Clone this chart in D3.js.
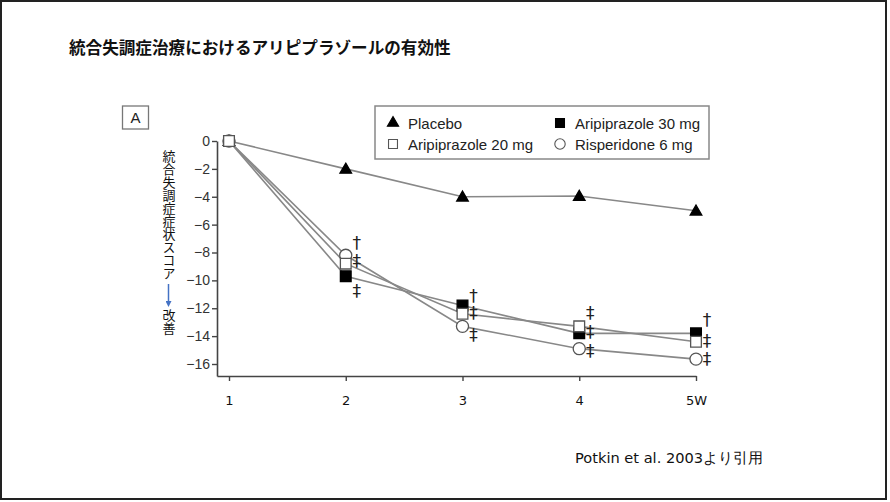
<!DOCTYPE html>
<html>
<head>
<meta charset="utf-8">
<script src="https://cdn.jsdelivr.net/npm/d3@7"></script>
<style>
  body { margin: 0; background: #fff; }
  svg { display: block; }
</style>
</head>
<body>
<script>
// data
var weeks = [1, 2, 3, 4, 5];
var weekLabels = ['1', '2', '3', '4', '5W'];
var placebo = [0, -2.0, -4.0, -3.95, -5.0];
var aripi30 = [0, -9.7, -11.8, -13.8, -13.8];
var aripi20 = [0, -8.8, -12.4, -13.3, -14.4];
var risper6 = [0, -8.2, -13.3, -14.9, -15.65];
var yTicks = [0, -2, -4, -6, -8, -10, -12, -14, -16];

// significance marks: week, value, symbol
var markWeeks = [2, 2, 2, 3, 3, 3, 4, 4, 4, 5, 5, 5];
var markValues = [-7.3, -8.6, -10.7, -11.1, -12.3, -13.9, -12.3, -13.7, -15.0, -12.8, -14.3, -15.6];
var markSymbols = ['†', '‡', '‡', '†', '‡', '‡', '‡', '‡', '‡', '†', '‡', '‡'];

var series = [
  { name: 'Placebo', values: placebo, shape: 'triangle', fill: '#000' },
  { name: 'Risperidone 6 mg', values: risper6, shape: 'circle', fill: '#fff' },
  { name: 'Aripiprazole 30 mg', values: aripi30, shape: 'square', fill: '#000' },
  { name: 'Aripiprazole 20 mg', values: aripi20, shape: 'square', fill: '#fff' }
];

var svg = d3.select('body').append('svg')
    .attr('width', 890)
    .attr('height', 502);

// slide frame
svg.append('rect')
    .attr('x', 1).attr('y', 1)
    .attr('width', 885).attr('height', 498)
    .attr('fill', 'none')
    .attr('stroke', '#222')
    .attr('stroke-width', 2);

svg.append('text')
    .attr('x', 69).attr('y', 54)
    .style('font-family', '"Noto Sans CJK JP", sans-serif')
    .style('font-size', '16.6px')
    .style('font-weight', 'bold')
    .attr('fill', '#111')
    .text('統合失調症治療におけるアリピプラゾールの有効性');

svg.append('text')
    .attr('x', 575).attr('y', 463)
    .style('font-family', '"DejaVu Sans", sans-serif')
    .style('font-size', '14.6px')
    .attr('fill', '#111')
    .text('Potkin et al. 2003より引用');

var x = d3.scaleLinear().domain([1, 5]).range([229, 696]);
var y = d3.scaleLinear().domain([0, -16]).range([141, 364]);

var axisFont = '"Liberation Sans", Arial, sans-serif';

// y axis
var yAxisScale = y.copy().domain([0, y.invert(376)]).range([141, 376]);
var gy = svg.append('g')
    .attr('transform', 'translate(217,0)')
    .call(d3.axisLeft(yAxisScale).tickValues(yTicks).tickSize(5).tickSizeOuter(0));
gy.select('.domain').attr('stroke', '#444').attr('stroke-width', 1.6);
gy.selectAll('.tick line').attr('stroke', '#444').attr('stroke-width', 1.4);
gy.selectAll('.tick text')
    .attr('fill', '#333')
    .style('font-family', axisFont)
    .style('font-size', '14px')
    .attr('x', -7);

// x axis
var xAxisScale = x.copy().domain([x.invert(217), 5]).range([217, 696]);
var gx = svg.append('g')
    .attr('transform', 'translate(0,376)')
    .call(d3.axisBottom(xAxisScale).tickValues(weeks).tickSize(5).tickSizeOuter(0)
      .tickFormat(function(d, i) { return weekLabels[i]; }));
gx.select('.domain').attr('stroke', '#444').attr('stroke-width', 1.6);
gx.selectAll('.tick line').attr('stroke', '#444').attr('stroke-width', 1.4);
gx.selectAll('.tick text')
    .attr('fill', '#111')
    .attr('dy', 0).attr('y', 29)
    .style('font-family', '"DejaVu Sans", sans-serif')
    .style('font-size', '13px');

// y axis label (vertical)
svg.append('text')
    .attr('x', 169).attr('y', 150)
    .style('writing-mode', 'vertical-rl')
    .style('font-family', '"Noto Sans CJK JP", sans-serif')
    .style('font-size', '13px')
    .attr('fill', '#111')
    .text('統合失調症症状スコア');

svg.append('defs').append('marker')
    .attr('id', 'arr')
    .attr('viewBox', '0 0 10 10')
    .attr('refX', 5).attr('refY', 5)
    .attr('markerWidth', 4).attr('markerHeight', 4)
    .attr('orient', 'auto')
  .append('path')
    .attr('d', 'M0,0L10,5L0,10z')
    .attr('fill', '#4472c4');

svg.append('line')
    .attr('x1', 168.5).attr('x2', 168.5)
    .attr('y1', 284).attr('y2', 304)
    .attr('stroke', '#4472c4')
    .attr('stroke-width', 1.5)
    .attr('marker-end', 'url(#arr)');

svg.append('text')
    .attr('x', 169).attr('y', 309)
    .style('writing-mode', 'vertical-rl')
    .style('font-family', '"Noto Sans CJK JP", sans-serif')
    .style('font-size', '13px')
    .attr('fill', '#111')
    .text('改善');

// panel letter
svg.append('rect')
    .attr('x', 122.5).attr('y', 106)
    .attr('width', 26).attr('height', 23)
    .attr('fill', '#fff')
    .attr('stroke', '#777')
    .attr('stroke-width', 1.3);
svg.append('text')
    .attr('x', 135.5).attr('y', 123)
    .attr('text-anchor', 'middle')
    .style('font-family', axisFont)
    .style('font-size', '15px')
    .attr('fill', '#222')
    .text('A');

// lines
var line = d3.line()
    .x(function(d, i) { return x(weeks[i]); })
    .y(function(d) { return y(d); });

svg.selectAll('path.series')
    .data(series)
    .enter()
    .append('path')
    .attr('class', 'series')
    .attr('d', function(s) { return line(s.values); })
    .attr('fill', 'none')
    .attr('stroke', '#888')
    .attr('stroke-width', 1.6);

function symbolFor(shape) {
  if (shape === 'triangle') return d3.symbol().type(d3.symbolTriangle).size(58)();
  if (shape === 'circle') return d3.symbol().type(d3.symbolCircle).size(115)();
  return d3.symbol().type(d3.symbolSquare).size(115)();
}

// markers
series.forEach(function(s) {
  svg.selectAll(null)
      .data(s.values)
      .enter()
      .append('path')
      .attr('d', symbolFor(s.shape))
      .attr('transform', function(d, i) {
        var dy = s.shape === 'triangle' ? 1 : 0;
        return 'translate(' + x(weeks[i]) + ',' + (y(d) + dy) + ')';
      })
      .attr('fill', s.fill)
      .attr('stroke', s.fill === '#000' ? '#000' : '#555')
      .attr('stroke-width', 1.3);
});

// significance marks
svg.selectAll('text.mark')
    .data(markSymbols)
    .enter()
    .append('text')
    .attr('class', 'mark')
    .attr('x', function(d, i) { return x(markWeeks[i]) + 11; })
    .attr('y', function(d, i) { return y(markValues[i]) + 6.5; })
    .attr('text-anchor', 'middle')
    .style('font-family', '"DejaVu Sans", sans-serif')
    .style('font-size', '17px')
    .attr('fill', '#222')
    .text(function(d) { return d; });

// legend
var legend = svg.append('g');
legend.append('rect')
    .attr('x', 375).attr('y', 106)
    .attr('width', 334).attr('height', 53)
    .attr('fill', '#fff')
    .attr('stroke', '#888')
    .attr('stroke-width', 1.5);

var legendItems = [
  { s: series[0], x: 393, y: 123 },
  { s: series[2], x: 560, y: 123 },
  { s: series[3], x: 393, y: 144 },
  { s: series[1], x: 560, y: 144 }
];
legendItems.forEach(function(it) {
  var shape = it.s.shape;
  var size = shape === 'triangle' ? 55 : (shape === 'circle' ? 85 : 80);
  legend.append('path')
      .attr('d', d3.symbol().type(shape === 'triangle' ? d3.symbolTriangle :
                   shape === 'circle' ? d3.symbolCircle : d3.symbolSquare).size(size)())
      .attr('transform', 'translate(' + it.x + ',' + it.y + ')')
      .attr('fill', it.s.fill)
      .attr('stroke', it.s.fill === '#000' ? '#000' : '#555')
      .attr('stroke-width', 1.1);
  legend.append('text')
      .attr('x', it.x + 15).attr('y', it.y + 5.5)
      .style('font-family', axisFont)
      .style('font-size', '15px')
      .attr('fill', '#222')
      .text(it.s.name);
});
</script>
</body>
</html>
